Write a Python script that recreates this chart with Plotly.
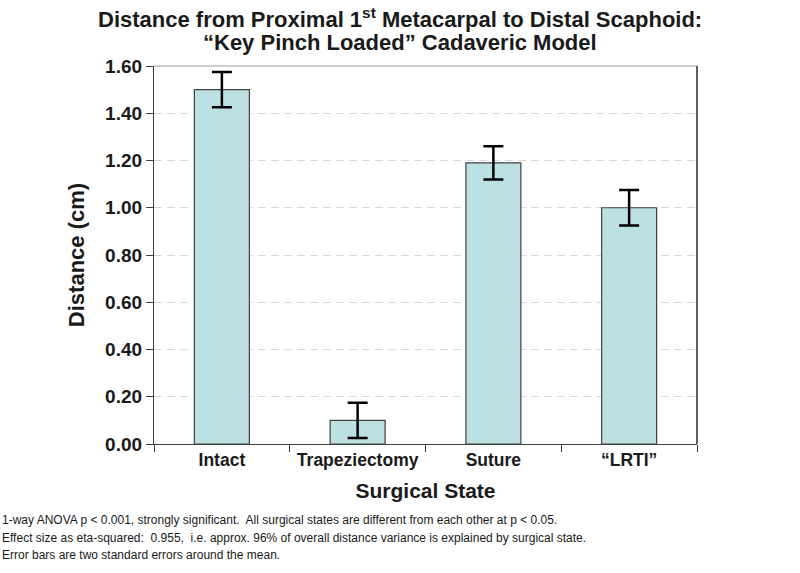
import plotly.graph_objects as go

categories = ["Intact", "Trapeziectomy", "Suture", "\u201cLRTI\u201d"]
distance_cm = [1.50, 0.10, 1.19, 1.00]
error_cm = [0.075, 0.075, 0.07, 0.075]
y_ticks = [0.0, 0.2, 0.4, 0.6, 0.8, 1.0, 1.2, 1.4, 1.6]
y_tick_labels = ["0.00", "0.20", "0.40", "0.60", "0.80", "1.00", "1.20", "1.40", "1.60"]
title_lines = [
    "Distance from Proximal 1<sup>st</sup> Metacarpal to Distal Scaphoid:",
    "\u201cKey Pinch Loaded\u201d Cadaveric Model",
]
footnotes = [
    "1-way ANOVA p &lt; 0.001, strongly significant.  All surgical states are different from each other at p &lt; 0.05.",
    "Effect size as eta-squared:  0.955,  i.e. approx. 96% of overall distance variance is explained by surgical state.",
    "Error bars are two standard errors around the mean.",
]

FONT = "Liberation Sans, Arial, sans-serif"
TXT = "#1a1a1a"

L, R, T, B = 154, 103, 66, 129
W, H = 800, 573
PW, PH = W - L - R, H - T - B

fig = go.Figure()
fig.add_trace(go.Bar(
    x=categories,
    y=distance_cm,
    marker=dict(color="#bde0e3", line=dict(color="#404040", width=1.2)),
    error_y=dict(type="data", array=error_cm, visible=True, color="#000000",
                 thickness=2.5, width=10),
    width=0.405,
))

fig.update_layout(
    width=W, height=H,
    margin=dict(l=L, r=R, t=T, b=B, autoexpand=False),
    plot_bgcolor="white", paper_bgcolor="white",
    showlegend=False,
    font=dict(family=FONT, color=TXT),
    xaxis=dict(
        type="category",
        tickson="boundaries",
        ticks="outside", ticklen=7, tickcolor="#404040", tickwidth=1.2,
        showline=True, linecolor="#404040", linewidth=1.2, mirror=False,
        tickfont=dict(family=FONT, size=17.5, color=TXT, weight="bold"),
        title=dict(text="Surgical State", standoff=14,
                   font=dict(family=FONT, size=21, color=TXT, weight="bold")),
        showgrid=False,
    ),
    yaxis=dict(
        range=[0, 1.6],
        tickvals=y_ticks, ticktext=y_tick_labels,
        ticks="outside", ticklen=7, tickcolor="#404040", tickwidth=1.2,
        showline=True, linecolor="#404040", linewidth=1.2, mirror=False,
        tickfont=dict(family=FONT, size=19, color=TXT, weight="bold"),
        title=dict(text="Distance (cm)", standoff=14,
                   font=dict(family=FONT, size=22, color=TXT, weight="bold")),
        showgrid=True, gridcolor="#d9d9d9", gridwidth=1.2, griddash="8px,5px",
        zeroline=False,
    ),
)

# Plot frame (top and right borders)
fig.add_shape(type="line", xref="paper", yref="paper", x0=0, x1=1, y0=1, y1=1,
              line=dict(color="#9a9a9a", width=1.2))
fig.add_shape(type="line", xref="paper", yref="paper", x0=1, x1=1, y0=0, y1=1,
              line=dict(color="#606060", width=2))

# Title lines (page y centres ~18 and ~42)
for i, line in enumerate(title_lines):
    fig.add_annotation(
        text=line, xref="paper", yref="paper",
        x=(400 - L) / PW, y=1 + (T - (18 + 24 * i)) / PH,
        xanchor="center", yanchor="middle", showarrow=False,
        font=dict(family=FONT, size=22, color=TXT, weight="bold"),
    )

for i, line in enumerate(footnotes):
    fig.add_annotation(
        text=line, xref="paper", yref="paper",
        x=-L / PW, y=-((520 + 17.5 * i) - (T + PH)) / PH,
        xanchor="left", yanchor="middle", showarrow=False,
        font=dict(family=FONT, size=12, color=TXT),
    )

fig.write_html("out.html", config={"displayModeBar": False},
               post_script="document.body.style.margin='0';")
